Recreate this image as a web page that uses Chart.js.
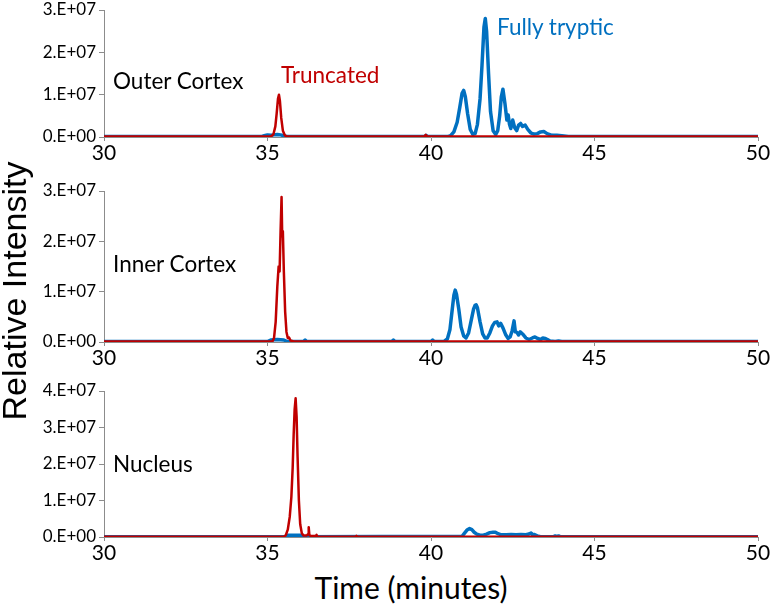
<!DOCTYPE html>
<html><head><meta charset="utf-8">
<script src="https://cdn.jsdelivr.net/npm/chart.js@4"></script>
<style>
body{margin:0;width:776px;height:613px;position:relative;overflow:hidden;background:#fff;font-family:Lato,sans-serif}
.wrap{position:absolute;left:0;width:776px}
.lbl{position:absolute;font-size:22.5px;white-space:nowrap;line-height:24px;font-family:Lato,sans-serif}
</style></head><body>
<div class="wrap" style="top:-10px;height:177px"><canvas id="c1"></canvas></div>
<div class="wrap" style="top:171px;height:201px"><canvas id="c2"></canvas></div>
<div class="wrap" style="top:371px;height:196px"><canvas id="c3"></canvas></div>

<div class="lbl" style="left:113px;top:69px;color:#000">Outer Cortex</div>
<div class="lbl" style="left:281px;top:63px;color:#C00000">Truncated</div>
<div class="lbl" style="left:497px;top:15px;color:#0070C0">Fully tryptic</div>
<div class="lbl" style="left:113px;top:252px;color:#000">Inner Cortex</div>
<div class="lbl" style="left:113px;top:452px;color:#000">Nucleus</div>
<div style="position:absolute;left:-136px;top:272px;width:300px;height:38px;line-height:38px;text-align:center;transform:rotate(-90deg);font-family:'Liberation Sans',Arial,sans-serif;font-size:34px;color:#000">Relative Intensity</div>
<div style="position:absolute;left:211px;top:571px;width:400px;line-height:32px;text-align:center;font-family:Lato,sans-serif;font-size:30px;color:#000">Time (minutes)</div>

<script>
// x-axis ticks
const xTicks = [30, 35, 40, 45, 50];
// y tick labels (values in millions)
const yLabels12 = ['0.E+00', '1.E+07', '2.E+07', '3.E+07'];
const yLabels3 = ['0.E+00', '1.E+07', '2.E+07', '3.E+07', '4.E+07'];

// Outer Cortex (intensity in millions)
const outerRedT = [30, 35.1, 35.18, 35.24, 35.28, 35.32, 35.35, 35.38, 35.42, 35.47, 35.53, 35.6, 39.8, 39.84, 39.88, 50];
const outerRedY = [0.1, 0.1, 0.6, 2.5, 5.5, 9, 10, 8.5, 4.5, 1.5, 0.4, 0.1, 0.1, 0.5, 0.1, 0.1];
const outerBlueT = [30, 34.8, 34.9, 35.0, 35.1, 35.2, 35.3, 35.4, 35.5, 35.6, 39.8, 39.85, 39.9, 40.5, 40.6, 40.7, 40.8, 40.88, 40.95, 41.0, 41.05, 41.12, 41.2, 41.28, 41.35, 41.42, 41.5, 41.56, 41.62, 41.66, 41.7, 41.76, 41.82, 41.9, 41.98, 42.04, 42.1, 42.15, 42.2, 42.26, 42.32, 42.36, 42.4, 42.44, 42.5, 42.56, 42.62, 42.68, 42.74, 42.8, 42.88, 42.96, 43.05, 43.15, 43.25, 43.35, 43.45, 43.55, 43.7, 43.85, 44.0, 44.2, 50];
const outerBlueY = [0.1, 0.1, 0.3, 0.5, 0.4, 0.5, 0.6, 0.5, 0.3, 0.1, 0.1, 0.4, 0.1, 0.1, 0.3, 1.2, 3.5, 7, 10.3, 11, 9.5, 5.5, 1.8, 0.6, 0.8, 3, 9, 17, 26, 28, 25, 15, 6, 1.5, 0.6, 1.5, 5, 9.5, 11.3, 8, 4, 5.2, 3, 2, 4, 2.2, 1.5, 2.8, 3.2, 2.5, 2.8, 1.8, 1.0, 0.7, 0.8, 1.2, 1.3, 0.8, 0.4, 0.4, 0.3, 0.1, 0.1];

// Inner Cortex
const innerRedT = [30, 35.15, 35.2, 35.25, 35.3, 35.34, 35.37, 35.4, 35.43, 35.45, 35.47, 35.5, 35.54, 35.58, 35.62, 35.66, 35.7, 35.8, 50];
const innerRedY = [0.1, 0.1, 0.8, 4, 11, 15, 14, 22, 28.8, 21, 22, 14, 6, 2, 0.8, 0.9, 0.3, 0.1, 0.1];
const innerBlueT = [30, 35.0, 35.1, 35.3, 35.5, 35.6, 36.1, 36.15, 36.2, 38.8, 38.85, 38.9, 40.0, 40.05, 40.1, 40.4, 40.5, 40.58, 40.65, 40.7, 40.74, 40.78, 40.85, 40.92, 41.0, 41.07, 41.15, 41.22, 41.3, 41.35, 41.38, 41.42, 41.5, 41.58, 41.65, 41.72, 41.8, 41.88, 41.95, 42.02, 42.07, 42.13, 42.2, 42.28, 42.36, 42.42, 42.48, 42.54, 42.58, 42.63, 42.68, 42.73, 42.8, 42.9, 43.0, 43.1, 43.18, 43.26, 43.35, 43.42, 43.49, 43.56, 43.64, 43.8, 43.9, 44.0, 50];
const innerBlueY = [0.1, 0.1, 0.4, 0.5, 0.4, 0.1, 0.1, 0.4, 0.1, 0.1, 0.4, 0.1, 0.1, 0.4, 0.1, 0.1, 0.6, 2.5, 6.5, 9.3, 10.3, 9.5, 6.5, 3, 1.2, 0.8, 1.8, 4, 6.5, 7.3, 7.4, 6.8, 4, 1.6, 0.8, 0.8, 1.8, 3.2, 3.9, 4.0, 3.2, 3.7, 2.8, 1.5, 0.7, 1.0, 2.2, 4.2, 2.0, 1.9, 1.4, 2.0, 1.6, 0.8, 0.5, 0.8, 1.0, 0.7, 0.5, 0.8, 0.7, 0.5, 0.2, 0.1, 0.2, 0.1, 0.1];

// Nucleus
const nucRedT = [30, 35.5, 35.56, 35.62, 35.68, 35.73, 35.77, 35.8, 35.83, 35.86, 35.89, 35.92, 35.96, 36.0, 36.05, 36.1, 36.2, 36.24, 36.26, 36.28, 36.32, 36.48, 36.5, 36.52, 37.7, 37.72, 37.74, 50];
const nucRedY = [0.1, 0.1, 0.5, 2, 5.5, 11, 19, 28, 35, 38, 33, 22, 10, 3.5, 1, 0.4, 0.4, 0.8, 2.7, 0.5, 0.3, 0.3, 0.6, 0.1, 0.1, 0.3, 0.1, 0.1];
const nucBlueT = [30, 35.55, 35.6, 36.0, 36.05, 40.95, 41.02, 41.1, 41.18, 41.25, 41.32, 41.4, 41.5, 41.6, 41.7, 41.8, 41.9, 41.97, 42.05, 42.15, 42.3, 42.45, 42.6, 42.75, 42.9, 43.0, 43.06, 43.1, 43.15, 43.25, 43.35, 43.75, 43.8, 43.85, 43.9, 43.95, 44.0, 50];
const nucBlueY = [0.1, 0.1, 0.5, 0.5, 0.1, 0.2, 1.0, 1.9, 2.3, 2.0, 1.3, 0.8, 0.5, 0.5, 0.8, 1.2, 1.3, 1.3, 0.9, 0.6, 0.6, 0.7, 0.6, 0.7, 0.6, 0.8, 1.1, 0.6, 0.7, 0.3, 0.1, 0.1, 0.3, 0.1, 0.3, 0.1, 0.1, 0.1];

const RED = '#C00000', BLUE = '#0070C0', AXIS = '#8c8c8c';
const pts = (t, y) => t.map((v, i) => ({x: v, y: y[i]}));

function makeChart(id, redT, redY, blueT, blueY, yMax, yLabels) {
  new Chart(document.getElementById(id), {
    type: 'line',
    data: {
      datasets: [
        {data: pts(redT, redY), borderColor: RED, borderWidth: 2.5, pointRadius: 0, tension: 0, fill: false, borderJoinStyle: 'round'},
        {data: pts(blueT, blueY), borderColor: BLUE, borderWidth: 3.5, pointRadius: 0, tension: 0, fill: false, borderJoinStyle: 'round'}
      ]
    },
    options: {
      responsive: true, maintainAspectRatio: false, animation: false,
      layout: {padding: {top: 20, right: 18, left: 0, bottom: 0}},
      plugins: {legend: {display: false}, tooltip: {enabled: false}},
      scales: {
        x: {
          type: 'linear', min: xTicks[0], max: xTicks[xTicks.length - 1],
          afterBuildTicks: s => { s.ticks = xTicks.map(v => ({value: v})); },
          afterFit: s => { s.height = 30; },
          ticks: {font: {family: 'Lato', size: 21}, color: '#000', padding: 0, maxRotation: 0},
          grid: {drawOnChartArea: false, tickLength: 4, color: AXIS},
          border: {color: AXIS, width: 1}
        },
        y: {
          min: 0, max: yMax,
          ticks: {stepSize: 10, font: {family: 'Lato', size: 17}, color: '#000', padding: 3,
                  callback: (v, i) => yLabels[i]},
          afterFit: s => { s.width = 104; },
          grid: {drawOnChartArea: false, tickLength: 5, color: AXIS},
          border: {color: AXIS, width: 1}
        }
      }
    }
  });
}
makeChart('c1', outerRedT, outerRedY, outerBlueT, outerBlueY, 30, yLabels12);
makeChart('c2', innerRedT, innerRedY, innerBlueT, innerBlueY, 30, yLabels12);
makeChart('c3', nucRedT, nucRedY, nucBlueT, nucBlueY, 40, yLabels3);
</script>
</body></html>
